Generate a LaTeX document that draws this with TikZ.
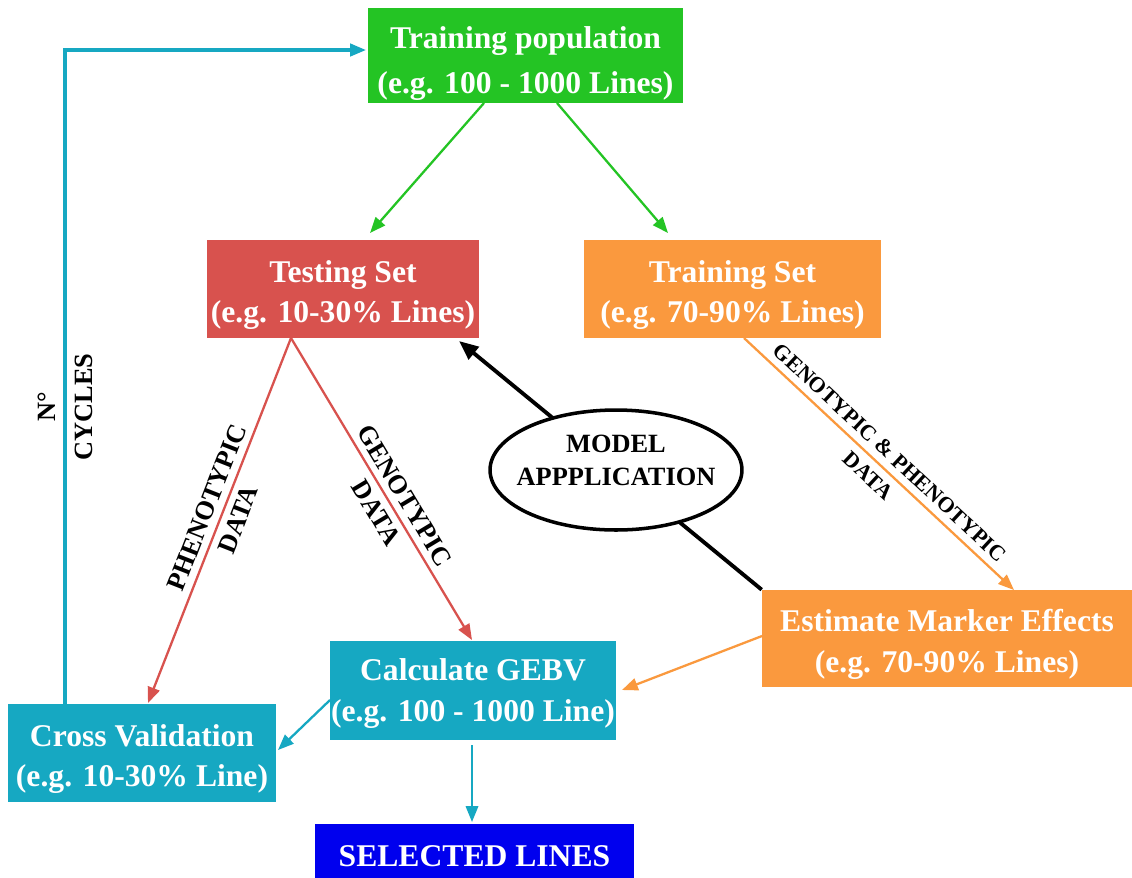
\documentclass[tikz,border=0pt]{standalone}
\usepackage{fontspec}
\setmainfont{Liberation Serif}
\usetikzlibrary{arrows.meta,shapes.geometric,calc}
\definecolor{cgreen}{RGB}{36,196,36}
\definecolor{cred}{RGB}{216,82,78}
\definecolor{cora}{RGB}{250,153,62}
\definecolor{ccyan}{RGB}{22,168,194}
\definecolor{cblue}{RGB}{0,0,238}
\newcommand\tstr[1]{\rule{0pt}{#1}}
\tikzset{
  box/.style={rectangle, inner sep=0pt, text=white, align=center,
    font=\fontsize{18}{23}\selectfont\bfseries},
  lbl/.style={align=center, inner sep=1pt, text=black,
    font=\fontsize{15}{19}\selectfont\bfseries},
  conn/.style={line width=1.3pt, -{Triangle[length=9pt,width=7pt]}},
}
\begin{document}
\begin{tikzpicture}[x=0.02cm,y=-0.02cm]
\clip (0,0) rectangle (1132,877);
\fill[white] (0,0) rectangle (1132,877);
% boxes
\node[box, fill=cgreen, minimum width=6.3cm, minimum height=1.9cm,
  font=\fontsize{18}{25.5}\selectfont\bfseries] (pop) at (525.5,55.5)
  {\tstr{22pt}Training population\\(e.g. 100 - 1000 Lines)};
\node[box, fill=cred, minimum width=5.44cm, minimum height=1.96cm] (test) at (343,289)
  {\tstr{19.5pt}Testing Set\\(e.g. 10-30\% Lines)};
\node[box, fill=cora, minimum width=5.94cm, minimum height=1.96cm] (train) at (732.5,289)
  {\tstr{19.5pt}Training Set\\(e.g. 70-90\% Lines)};
\node[box, fill=cora, minimum width=7.4cm, minimum height=1.94cm] (est) at (947,638.5)
  {\tstr{19.5pt}Estimate Marker Effects\\(e.g. 70-90\% Lines)};
\node[box, fill=ccyan, minimum width=5.72cm, minimum height=1.98cm] (gebv) at (473,690.5)
  {\tstr{16pt}Calculate GEBV\\(e.g. 100 - 1000 Line)};
\node[box, fill=ccyan, minimum width=5.36cm, minimum height=1.96cm] (cv) at (142,753)
  {\tstr{19.5pt}Cross Validation\\(e.g. 10-30\% Line)};
\node[box, fill=cblue, minimum width=6.38cm, minimum height=1.3cm] (sel) at (474.5,856.5)
  {SELECTED LINES};
% coordinates
\coordinate (popL) at (484,103);
\coordinate (popR) at (557,103);
\coordinate (testT) at (370,233);
\coordinate (trainT) at (668,233);
\coordinate (testB) at (291,338);
\coordinate (cvT) at (148,703);
\coordinate (gebvT) at (472,640);
\coordinate (trainB) at (744,338);
\coordinate (estT) at (1014,590);
\coordinate (estL) at (762,636);
\coordinate (gebvR) at (622,690);
\coordinate (gebvL) at (330,700);
\coordinate (cvR) at (278,750);
\coordinate (gebvB) at (472,745);
\coordinate (selT) at (472,822);
\coordinate (cvL) at (65,704);
\coordinate (loopC) at (65,50);
\coordinate (popW) at (366,50);
\coordinate (testBR) at (459,341);
% connectors
\draw[conn, cgreen] (popL) -- (testT);
\draw[conn, cgreen] (popR) -- (trainT);
\draw[conn, cred] (testB) -- (cvT)
  node[lbl, pos=0.48, rotate=68.6] {PHENOTYPIC\\DATA};
\draw[conn, cred] (testB) -- (gebvT)
  node[lbl, pos=0.55, rotate=-59] {GENOTYPIC\\DATA};
\draw[conn, cora] (trainB) -- (estT)
  node[lbl, pos=0.5, rotate=-43, font=\fontsize{12.5}{18}\selectfont\bfseries]
  {GENOTYPIC \& PHENOTYPIC\\DATA};
\draw[conn, cora] (estL) -- (gebvR);
\draw[conn, ccyan] (gebvL) -- (cvR);
\draw[conn, ccyan] (gebvB) -- (selT);
\draw[conn, ccyan, line width=1.8pt] (cvL) -- (loopC) -- (popW);
\node[lbl, rotate=90, font=\fontsize{15}{21}\selectfont\bfseries] (cyc) at (65,407) {N°\\CYCLES};
\draw[line width=2.2pt, -{Triangle[length=11pt,width=9pt]}] (est.north west) -- (testBR);
\node[ellipse, draw, line width=2pt, fill=white, minimum width=5.04cm, minimum height=2.4cm,
  inner sep=0pt, align=center, font=\fontsize{15}{19}\selectfont\bfseries] (model) at (616,470)
  {\makebox[0pt]{MODEL}\\\makebox[0pt]{APPPLICATION}\rule[-11pt]{0pt}{11pt}};
\end{tikzpicture}
\end{document}
